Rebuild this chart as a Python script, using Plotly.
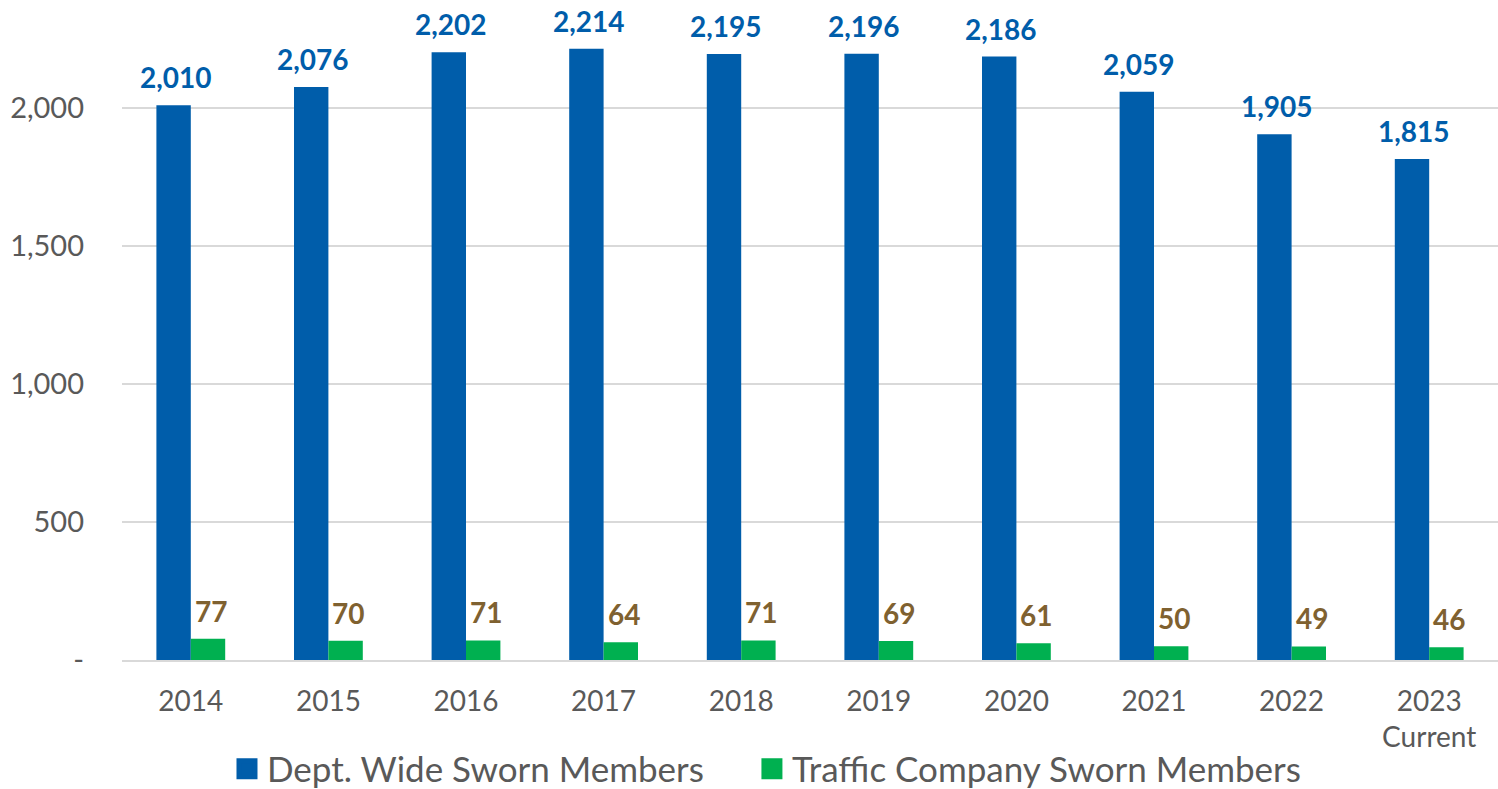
import plotly.graph_objects as go

years = ["2014", "2015", "2016", "2017", "2018", "2019", "2020", "2021", "2022", "2023<br>Current"]
dept_wide = [2010, 2076, 2202, 2214, 2195, 2196, 2186, 2059, 1905, 1815]
traffic = [77, 70, 71, 64, 71, 69, 61, 50, 49, 46]
y_ticks = [0, 500, 1000, 1500, 2000]
y_tick_text = ["-", "500", "1,000", "1,500", "2,000"]

FONT = "Lato"
BLUE = "#005DAA"
GREEN = "#00B050"
LABEL_GOLD = "#7F6130"

fig = go.Figure()
fig.add_trace(go.Bar(
    x=years, y=dept_wide, name="Dept. Wide Sworn Members", showlegend=False,
    marker=dict(color=BLUE, line=dict(width=0)),
))
fig.add_trace(go.Bar(
    x=years, y=traffic, name="Traffic Company Sworn Members", showlegend=False,
    marker=dict(color=GREEN, line=dict(width=0)),
))
# legend entries with larger square swatches (one legend each, to control spacing)
for nm, col, lg in [("Dept. Wide Sworn Members", BLUE, "legend"),
                    ("Traffic Company Sworn Members", GREEN, "legend2")]:
    fig.add_trace(go.Scatter(x=[None], y=[None], mode="markers", name=nm, legend=lg,
                             marker=dict(symbol="square", size=16, color=col,
                                         line=dict(color=col, width=5))))

# data labels above bars (category positions by index)
for i, v in enumerate(dept_wide):
    fig.add_annotation(x=i, y=v, xref="x", yref="y", text=f"{v:,}", showarrow=False,
                       xshift=-15, yshift=9, yanchor="bottom",
                       font=dict(family=FONT, size=28, color=BLUE, weight="bold"))
for i, v in enumerate(traffic):
    fig.add_annotation(x=i, y=v, xref="x", yref="y", text=f"{v:,}", showarrow=False,
                       xshift=20, yshift=9, yanchor="bottom",
                       font=dict(family=FONT, size=28, color=LABEL_GOLD, weight="bold"))

legend_common = dict(orientation="h", y=-0.165, yanchor="middle", xanchor="left",
                     font=dict(family=FONT, size=35, color="#595959"), itemwidth=30)
fig.update_layout(
    width=1498, height=789,
    margin=dict(l=122, r=0, t=0, b=129, autoexpand=False),
    barmode="group", bargap=0.5, bargroupgap=0,
    plot_bgcolor="white", paper_bgcolor="white",
    font=dict(family=FONT, color="#595959"),
    legend=dict(x=0.0763, **legend_common),
    legend2=dict(x=0.4578, **legend_common),
    xaxis=dict(type="category", tickfont=dict(family=FONT, size=28, color="#595959"),
               showline=True, linecolor="#D9D9D9", linewidth=2,
               ticks="", ticklabelstandoff=15),
    yaxis=dict(range=[0, 2391], tickvals=y_ticks, ticktext=y_tick_text,
               tickfont=dict(family=FONT, size=29, color="#595959"),
               showgrid=True, gridcolor="#D9D9D9", gridwidth=1.5,
               zeroline=False, ticks="", ticklabelstandoff=37),
)
fig.write_html("out.html", config={"displayModeBar": False},
               post_script="document.body.style.margin='0';document.body.style.overflow='hidden';")
